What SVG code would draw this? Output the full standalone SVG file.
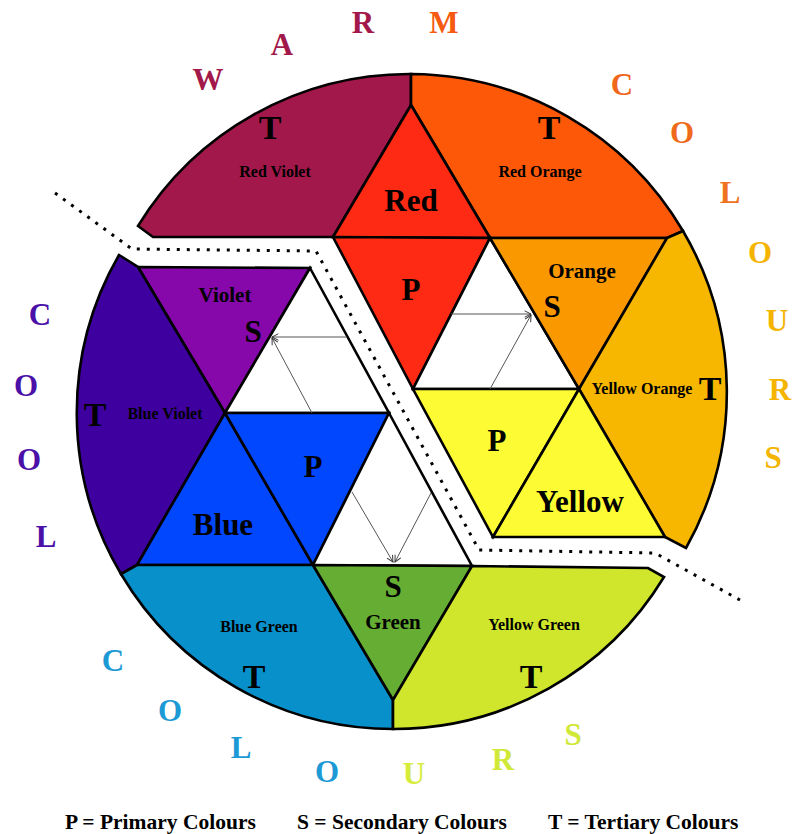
<svg xmlns="http://www.w3.org/2000/svg" width="792" height="834" viewBox="0 0 792 834">
<defs>
<style>
.r{stroke:#000;stroke-width:2.6;stroke-linejoin:miter}
.t{font-family:"Liberation Serif","Times New Roman",serif;font-weight:bold;fill:#000;text-anchor:middle}
.big{font-size:31px}
.T{font-size:34px}
.sm{font-size:16px}
.md{font-size:21px}
.ou{font-family:"Liberation Serif","Times New Roman",serif;font-weight:bold;font-size:31px;text-anchor:middle}
.arr{stroke:#555;stroke-width:1;fill:none;marker-end:url(#ah)}
.lg{font-family:"Liberation Serif","Times New Roman",serif;font-weight:bold;font-size:21.5px;fill:#000}
</style>
<marker id="ah" viewBox="0 0 10 10" refX="9" refY="5" markerWidth="8" markerHeight="8" markerUnits="userSpaceOnUse" orient="auto">
<path d="M1,1 L9,5 L1,9" fill="none" stroke="#333" stroke-width="1.2"/>
</marker>
</defs>
<rect width="792" height="834" fill="#fff"/>

<g id="warm">
<g id="red-violet"><path class="r" fill="#a3184a" d="M138,226 A318,318 0 0 1 411,74 L411,105 L333,237 L153,237 Z"/>
<text class="t T" x="270" y="139">T</text><text class="t sm" x="275" y="177">Red Violet</text></g>
<g id="red-orange"><path class="r" fill="#fd5808" d="M411,74 A318,318 0 0 1 683,231 L667,238 L490,238 L411,105 Z"/>
<text class="t T" x="549" y="139">T</text><text class="t sm" x="540" y="177">Red Orange</text></g>
<g id="red"><path class="r" fill="#fe2a14" d="M411,105 L490,238 L333,237 Z"/>
<text class="t big" x="411" y="211">Red</text></g>
<g id="red-p"><path class="r" fill="#fe2a14" d="M333,237 L490,238 L413,389 Z"/>
<text class="t big" x="411" y="300">P</text></g>
<g id="white-warm"><path class="r" fill="#fff" d="M490,238 L579,389 L413,389 Z"/></g>
<g id="orange"><path class="r" fill="#fa9800" d="M490,238 L667,238 L579,389 Z"/>
<text class="t md" x="582" y="278">Orange</text><text class="t big" x="552" y="317">S</text></g>
<g id="yellow-orange"><path class="r" fill="#f7b700" d="M667,238 L683,231 A318,318 0 0 1 686,548 L665,537 L579,389 Z"/>
<text class="t sm" x="642" y="394">Yellow Orange</text><text class="t T" x="710" y="400">T</text></g>
<g id="yellow-p"><path class="r" fill="#fdfb33" d="M413,389 L579,389 L493,537 Z"/>
<text class="t big" x="497" y="451">P</text></g>
<g id="yellow"><path class="r" fill="#fdfb33" d="M579,389 L665,537 L493,537 Z"/>
<text class="t big" x="580" y="512">Yellow</text></g>
</g>

<g id="cool">
<g id="violet"><path class="r" fill="#8608aa" d="M138,267 L310,268 L225,413 Z"/>
<text class="t md" x="225" y="302">Violet</text><text class="t big" x="253" y="342">S</text></g>
<g id="white-cool-1"><path class="r" fill="#fff" d="M310,268 L389,413 L225,413 Z"/></g>
<g id="blue-violet"><path class="r" fill="#3f00a0" d="M119,255 L138,267 L225,413 L137,565 L121,574 A316,316 0 0 1 119,255 Z"/>
<text class="t T" x="95" y="426">T</text><text class="t sm" x="165" y="419">Blue Violet</text></g>
<g id="blue"><path class="r" fill="#0047fd" d="M225,413 L313,565 L137,565 Z"/>
<text class="t big" x="223" y="535">Blue</text></g>
<g id="blue-p"><path class="r" fill="#0047fd" d="M225,413 L389,413 L313,565 Z"/>
<text class="t big" x="313" y="477">P</text></g>
<g id="white-cool-2"><path class="r" fill="#fff" d="M389,413 L472,566 L313,565 Z"/></g>
<g id="blue-green"><path class="r" fill="#0890cb" d="M121,574 L137,565 L313,565 L393,700 L393,729 A316,316 0 0 1 121,574 Z"/>
<text class="t sm" x="259" y="632">Blue Green</text><text class="t T" x="254" y="688">T</text></g>
<g id="green"><path class="r" fill="#66ad33" d="M313,565 L472,566 L393,700 Z"/>
<text class="t big" x="393" y="597">S</text><text class="t md" x="393" y="629">Green</text></g>
<g id="yellow-green"><path class="r" fill="#cfe62c" d="M472,566 L648,568 L664,577 A316,316 0 0 1 393,729 L393,700 Z"/>
<text class="t sm" x="534" y="630">Yellow Green</text><text class="t T" x="531" y="688">T</text></g>
</g>

<g id="connectors">
<path d="M55,193 L132,249 L316,251 L479,550 L655,553 L740,600" fill="none" stroke="#000" stroke-width="3" stroke-dasharray="3 7"/>
<line class="arr" x1="451" y1="314" x2="531" y2="314"/>
<line class="arr" x1="490" y1="389" x2="531" y2="315"/>
<line class="arr" x1="347" y1="337" x2="272" y2="337"/>
<line class="arr" x1="312" y1="413" x2="272" y2="338"/>
<line class="arr" x1="352" y1="492" x2="393" y2="562"/>
<line class="arr" x1="431" y1="493" x2="395" y2="562"/>
</g>

<g id="outer-letters">
<text class="ou" fill="#a3184a" x="208" y="90">W</text>
<text class="ou" fill="#a3184a" x="282" y="55">A</text>
<text class="ou" fill="#a3184a" x="363" y="33">R</text>
<text class="ou" fill="#f55a10" x="444" y="33">M</text>
<text class="ou" fill="#f0661c" x="622" y="95">C</text>
<text class="ou" fill="#f06a1c" x="682" y="143">O</text>
<text class="ou" fill="#f07420" x="730" y="203">L</text>
<text class="ou" fill="#f4b400" x="760" y="263">O</text>
<text class="ou" fill="#f4b400" x="777" y="331">U</text>
<text class="ou" fill="#f4b400" x="780" y="400">R</text>
<text class="ou" fill="#f4b400" x="773" y="468">S</text>
<text class="ou" fill="#4a10a8" x="40" y="325">C</text>
<text class="ou" fill="#4a10a8" x="26" y="396">O</text>
<text class="ou" fill="#4a10a8" x="29" y="470">O</text>
<text class="ou" fill="#4a10a8" x="46" y="547">L</text>
<text class="ou" fill="#1c9ad6" x="113" y="671">C</text>
<text class="ou" fill="#1c9ad6" x="170" y="721">O</text>
<text class="ou" fill="#1c9ad6" x="241" y="758">L</text>
<text class="ou" fill="#1c9ad6" x="327" y="782">O</text>
<text class="ou" fill="#d6ec3c" x="414" y="784">U</text>
<text class="ou" fill="#d0e838" x="503" y="770">R</text>
<text class="ou" fill="#d0e838" x="573" y="745">S</text>
</g>

<g id="legend">
<text class="lg" x="65" y="829">P = Primary Colours</text>
<text class="lg" x="297" y="829">S = Secondary Colours</text>
<text class="lg" x="548" y="829">T = Tertiary Colours</text>
</g>
</svg>
